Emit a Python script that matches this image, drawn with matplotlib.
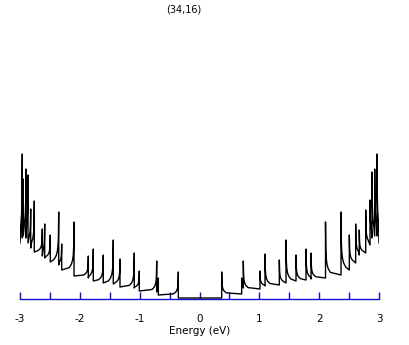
import numpy as np
import matplotlib
matplotlib.use("Agg")
import matplotlib.pyplot as plt

title = "(34,16)"

# van Hove singularities (energy in eV, peak height, level right after)
neg_energy = [-2.962, -2.945, -2.900, -2.866, -2.821, -2.761, -2.627, -2.587, -2.494,
              -2.353, -2.303, -2.097, -1.858, -1.775, -1.608, -1.441, -1.329, -1.090,
              -1.006, -0.715, -0.688, -0.354]
neg_peak = [144, 119, 129, 123, 89, 97, 69, 74, 63,
            86, 54, 76, 42, 49, 43, 58, 39, 45,
            27, 37, 20, 26]
neg_floor = [60, 62, 60, 55, 50, 46, 42, 40, 36,
             33, 28, 22, 20, 17, 15, 14, 11, 10,
             7, 6, 3, 0]
start_level = 55

pos_energy = [0.371, 0.705, 0.732, 1.011, 1.095, 1.334, 1.446, 1.613, 1.780, 1.864,
              2.106, 2.365, 2.504, 2.610, 2.670, 2.778, 2.850, 2.883, 2.928, 2.967]
pos_peak = [26, 20, 37, 27, 44, 38, 58, 43, 49, 45,
            76, 86, 63, 74, 68, 88, 98, 126, 129, 144]
pos_floor = [4, 10, 9, 12, 13, 15, 17, 18, 19, 20,
             23, 28, 35, 43, 45, 53, 60, 62, 62, 58]
end_level = 55

xticks = [-3, -2, -1, 0, 1, 2, 3]
xtick_labels = ["-3", "-2", "-1", "0", "1", "2", "3"]

# spike tail drawing profile (offset in eV, fraction of spike above floor)
tail_dx = [0.005, 0.012, 0.025, 0.045, 0.08]
tail_frac = [0.5, 0.32, 0.2, 0.12, 0.05]

xs, ys = [-3.0], [start_level]
# negative side: tail rises toward each peak from the left, then drops vertically
prev_floor = start_level
prev_e = -3.0
for e, p, f in zip(neg_energy, neg_peak, neg_floor):
    for dx, fr in zip(tail_dx[::-1], tail_frac[::-1]):
        if e - dx > prev_e:
            xs.append(e - dx)
            ys.append(prev_floor + (p - prev_floor) * fr)
    xs += [e, e]
    ys += [p, f]
    prev_floor = f
    prev_e = e

# positive side: vertical rise at each peak, tail decays to the right
pos_next = pos_energy[1:] + [3.0]
for e, p, f, nxt in zip(pos_energy, pos_peak, pos_floor, pos_next):
    xs += [e, e]
    ys += [prev_floor, p]
    for dx, fr in zip(tail_dx, tail_frac):
        if e + dx < nxt:
            xs.append(e + dx)
            ys.append(f + (p - f) * fr)
    prev_floor = f
xs.append(3.0)
ys.append(end_level)

fig = plt.figure(figsize=(4.09, 3.45), dpi=100)
ax = fig.add_axes([20 / 409, 1 - 299 / 345, 359 / 409, 279 / 345])
ax.plot(xs, ys, color="black", lw=1.0)
ax.set_xlim(-3, 3)
ax.set_ylim(-1, 278)

for s in ["top", "left", "right"]:
    ax.spines[s].set_visible(False)
ax.spines["bottom"].set_color("#1010c8")
ax.spines["bottom"].set_linewidth(1.0)
ax.set_yticks([])
ax.set_xticks(xticks)
ax.set_xticklabels(xtick_labels)
ax.set_xticks([-2.5, -1.5, -0.5, 0.5, 1.5, 2.5], minor=True)
ax.tick_params(axis="x", which="both", direction="in", length=5, width=1.0,
               color="#1010c8", labelsize=7.5, pad=11)
ax.set_xlabel("Energy (eV)", fontsize=7.5, labelpad=1)

fig.text(184 / 409, 1 - 10 / 345, title, fontsize=7, ha="center", va="center")

fig.savefig("out.png", dpi=100)
